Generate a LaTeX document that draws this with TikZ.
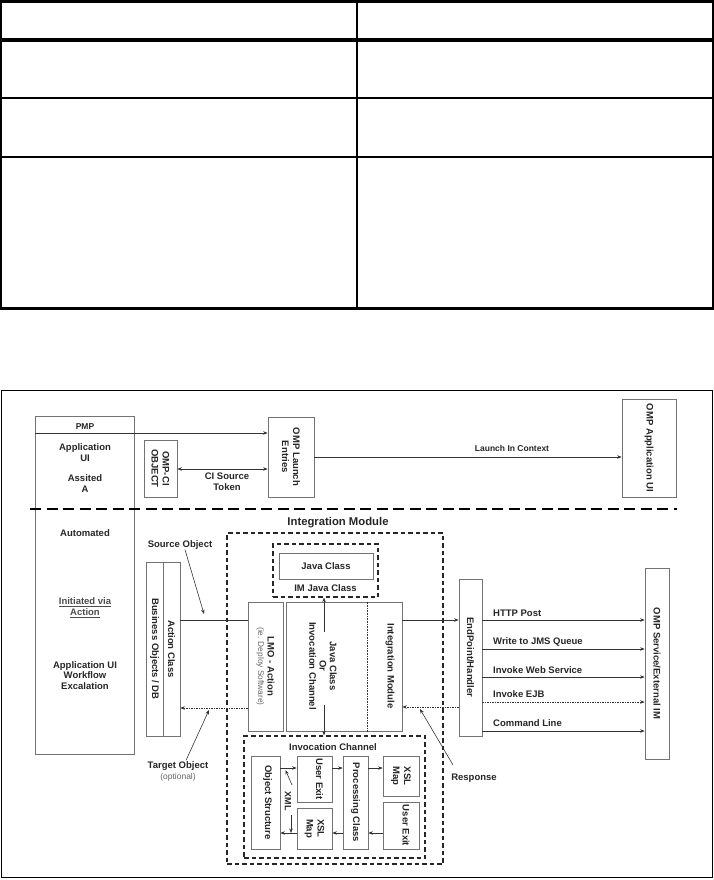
\documentclass[tikz,border=0pt]{standalone}
\usepackage{fontspec}
\setmainfont{Liberation Sans}
\usetikzlibrary{arrows.meta,fit}
\newcommand\mkbox[6][box]{\path (#3,#4) coordinate (#2-a) (#5,#6) coordinate (#2-b); \node[#1, fit=(#2-a)(#2-b)] (#2) {};}
\tikzset{
  box/.style={draw=black!55, line width=0.7pt, inner sep=0pt},
  dbox/.style={draw=black!85, line width=1.2pt, dash pattern=on 4.5pt off 3pt, inner sep=0pt},
  txt/.style={font=\fontsize{9.5}{11}\selectfont\bfseries, align=center, inner sep=0pt, text=black!85},
  rtxt/.style={txt, rotate=-90},
  small/.style={font=\fontsize{8.5}{10}\selectfont, text=black!60, inner sep=0pt},
  conn/.style={line width=0.6pt, draw=black!80},
  arr/.style={conn, -{Stealth[length=4.5pt,width=3.5pt]}},
  dblarr/.style={conn, {Stealth[length=4.5pt,width=3.5pt]}-{Stealth[length=4.5pt,width=3.5pt]}},
  retarr/.style={arr, dash pattern=on 1.5pt off 1pt},
}
\begin{document}
\begin{tikzpicture}[x=1pt,y=-1pt]
\useasboundingbox (0,0) rectangle (714,880);
% ---- empty table ----
\draw[line width=3.5pt] (0,1.75) -- (714,1.75);
\draw[line width=4pt] (0,40) -- (714,40);
\draw[line width=2pt] (0,98) -- (714,98);
\draw[line width=2pt] (0,157) -- (714,157);
\draw[line width=3pt] (0,308) -- (714,308);
\draw[line width=2pt] (1,0) -- (1,309.5);
\draw[line width=2pt] (356.5,0) -- (356.5,309.5);
\draw[line width=2pt] (713,0) -- (713,309.5);
% ---- diagram frame ----
\draw[line width=1pt] (1.5,390) rectangle (712,877.5);
% left column
\mkbox{leftcol}{35}{416}{134}{754}
\coordinate (pmp) at (35,433);
\node[txt, font=\fontsize{8.5}{10}\selectfont\bfseries] (pmpl) at (85,427) {PMP};
\node[txt] (appl) at (85,452.5) {Application\\UI};
\node[txt] (assl) at (85,484) {Assited\\A};
\node[txt] (autol) at (85,533) {Automated};
\node[txt, text=black!70] (initl) at (85,607.5) {\underline{Initiated via}\\\underline{Action}};
\node[txt, font=\fontsize{9.5}{10.5}\selectfont\bfseries] (wfl) at (85,675.5) {Application UI\\Workflow\\Excalation};
% top boxes
\mkbox{ompci}{144}{440}{177}{497}
\node[rtxt] (ompcit) at (ompci) {OMP-CI\\OBJECT};
\mkbox{launch}{268}{417}{314}{497}
\node[rtxt] (launcht) at (launch) {OMP Launch\\Entries};
\mkbox{appui}{622}{399}{676}{497}
\node[rtxt] (appuit) at (appui) {OMP Application UI};
\draw[arr] (pmp) -- (pmp -| launch.west);
\coordinate (cis) at (0,469);
\draw[dblarr] (ompci.east |- cis) -- (launch.west |- cis);
\node[txt] (cilbl) at (227,481.5) {CI Source\\Token};
\draw[arr] (launch.east) -- (launch.east -| appui.west);
\node[txt, font=\fontsize{8.5}{10}\selectfont\bfseries] (liclbl) at (512,448) {Launch In Context};
% separator
\draw[line width=2pt, dash pattern=on 11pt off 5.5pt] (30,509) -- (677,509);
% integration module
\mkbox[dbox]{im}{227}{533}{443}{864}
\node[txt, font=\fontsize{11.3}{13}\selectfont\bfseries] (imt) at (338,523) {Integration Module};
\mkbox[dbox]{imj}{273}{544}{378}{597}
\mkbox{jcls}{279}{553}{373}{579}
\node[txt] (jclst) at (jcls) {Java Class};
\node[txt] (imjt) at (325.5,588) {IM Java Class};
\mkbox{lmo}{248}{602}{283}{731}
\node[rtxt, font=\fontsize{9.5}{9.5}\selectfont\bfseries] (lmot) at (lmo) {LMO - Action\\{\fontsize{8.3}{9}\selectfont\mdseries\color{black!60}(ie. Deploy Software)}};
\mkbox{mid}{286}{602}{402}{731}
\coordinate (dv) at (367,0);
\draw[conn, densely dotted] (mid.north -| dv) -- (mid.south -| dv);
\node[rtxt, font=\fontsize{9.5}{10.3}\selectfont\bfseries] (jcort) at (323,666) {Java Class\\Or\\Invocation Channel};
\node[rtxt] (imodt) at (390,666) {Integration Module};
% invocation channel
\mkbox[dbox]{ic}{244}{736}{425}{858}
\node[txt] (ict) at (333,747) {Invocation Channel};
\coordinate (jct) at (324,632);
\coordinate (jcb) at (324,705);
\draw[arr] (jct) -- (jct |- imj.south);
\draw[arr] (jcb) -- (jcb |- ic.north);
% business objects
\mkbox{bo}{146}{562}{163}{736}
\mkbox{ac}{163}{562}{180}{736}
\node[rtxt] (bot) at (bo) {Business Objects / DB};
\node[rtxt] (act) at (ac) {Action Class};
\coordinate (hp) at (0,620);
\coordinate (rp) at (0,708);
\draw[conn] (ac.east |- hp) -- (lmo.west |- hp);
\draw[retarr] (lmo.west |- rp) -- (ac.east |- rp);
\node[txt] (so) at (180,545) {Source Object};
\coordinate (sotip) at (204,614);
\draw[arr] ([xshift=5pt]so.south) -- (sotip);
\node[txt] (tgt) at (178,766) {Target Object};
\node[small] (opt) at (178,777.5) {(optional)};
\coordinate (tgtip) at (209,710);
\draw[arr] ([xshift=8pt,yshift=1pt]tgt.north) -- (tgtip);
% endpoint
\mkbox{ep}{459}{579}{482}{736}
\node[rtxt] (ept) at (ep) {EndPoint/Handler};
\draw[arr] (mid.east |- hp) -- (ep.west |- hp);
\coordinate (rp2) at (0,707);
\draw[retarr] (ep.west |- rp2) -- (mid.east |- rp2);
\node[txt] (resp) at (474,778) {Response};
\coordinate (respst) at (453,765);
\coordinate (resptip) at (420,709);
\draw[arr] (respst) -- (resptip);
% external service
\mkbox{svc}{645}{568}{669}{759}
\node[rtxt] (svct) at (svc) {OMP Service/External IM};
\coordinate (p1) at (0,620);
\coordinate (p2) at (0,649);
\coordinate (p3) at (0,677);
\coordinate (p4) at (0,702);
\coordinate (p5) at (0,731);
\draw[arr] (ep.east |- p1) -- (svc.west |- p1);
\draw[arr] (ep.east |- p2) -- (svc.west |- p2);
\draw[arr] (ep.east |- p3) -- (svc.west |- p3);
\draw[retarr] (ep.east |- p4) -- (svc.west |- p4);
\draw[arr] (ep.east |- p5) -- (svc.west |- p5);
\node[txt, anchor=west] (l1) at (493,613) {HTTP Post};
\node[txt, anchor=west] (l2) at (493,642) {Write to JMS Queue};
\node[txt, anchor=west] (l3) at (493,670) {Invoke Web Service};
\node[txt, anchor=west] (l4) at (493,694.5) {Invoke EJB};
\node[txt, anchor=west] (l5) at (493,723.5) {Command Line};
% invocation channel contents
\mkbox{os}{251}{756}{280}{849}
\node[rtxt] (ost) at ([xshift=2pt]os.center) {Object Structure};
\mkbox{ue1}{297}{756}{332}{802}
\node[rtxt] (ue1t) at ([xshift=5pt]ue1.center) {User Exit};
\mkbox{xs1}{297}{808}{332}{849}
\node[rtxt] (xs1t) at (xs1) {XSL\\Map};
\mkbox{pc}{343}{756}{368}{849}
\node[rtxt] (pct) at (pc) {Processing Class};
\mkbox{xs2}{383}{756}{419}{796}
\node[rtxt] (xs2t) at (xs2) {XSL\\Map};
\mkbox{ue2}{383}{802}{419}{849}
\node[rtxt] (ue2t) at ([xshift=5pt]ue2.center) {User Exit};
\coordinate (ta) at (0,768);
\coordinate (ba) at (0,833);
\draw[arr] (os.east |- ta) -- (ue1.west |- ta);
\draw[arr] (ue1.east |- ta) -- (pc.west |- ta);
\draw[arr] (pc.east |- ta) -- (xs2.west |- ta);
\draw[arr] (ue2.west |- ba) -- (pc.east |- ba);
\draw[arr] (pc.west |- ba) -- (xs1.east |- ba);
\draw[arr] (xs1.west |- ba) -- (os.east |- ba);
\node[rtxt, font=\fontsize{9}{10}\selectfont\bfseries] (xml) at (288,801) {XML};
\coordinate (xa1) at (292,785);
\coordinate (xa2) at (285.5,770);
\draw[arr] (xa1) -- (xa2);
\coordinate (xa3) at (291,815);
\draw[arr] (xa3) -- (xa3 |- ba);
\end{tikzpicture}
\end{document}
